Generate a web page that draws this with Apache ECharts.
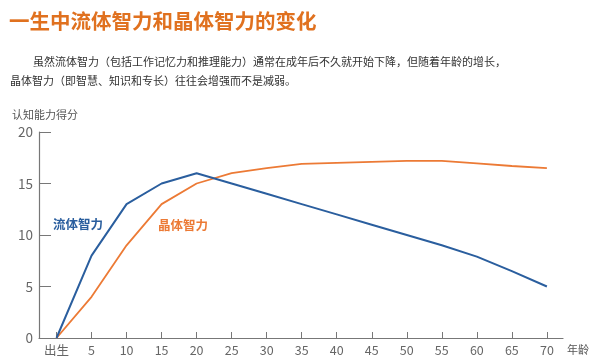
<!DOCTYPE html>
<html><head><meta charset="utf-8">
<script src="https://cdn.jsdelivr.net/npm/echarts@6/dist/echarts.min.js"></script>
<style>html,body{margin:0;padding:0;background:#fff}#c{width:600px;height:364px}</style>
</head><body><div id="c"></div>
<script>
var ages = [0,5,10,15,20,25,30,35,40,45,50,55,60,65,70];
var fluid = [0,8,13,15,16,15,14,13,12,11,10,9,7.9,6.5,5];
var crystal = [0,4,9,13,15,16,16.5,16.9,17,17.1,17.2,17.2,16.95,16.7,16.5];
var xTicks = [0,5,10,15,20,25,30,35,40,45,50,55,60,65,70];
var yTicks = [0,5,10,15,20];
var titleText = '一生中流体智力和晶体智力的变化';
var para1 = '虽然流体智力（包括工作记忆力和推理能力）通常在成年后不久就开始下降，但随着年龄的增长，';
var para2 = '晶体智力（即智慧、知识和专长）往往会增强而不是减弱。';
var fluidName = '流体智力', crystalName = '晶体智力';
var font = '"Noto Sans CJK SC","Noto Sans",sans-serif';
var chart = echarts.init(document.getElementById('c'));
function pairs(v){ return ages.map(function(a,i){return [a,v[i]];}); }
chart.setOption({
  animation:false,
  textStyle:{fontFamily:font},
  graphic:[
    {type:'text',left:9,top:11,style:{text:titleText,font:'bold 20.5px '+font,fill:'#E0711F'}},
    {type:'text',left:33,top:56,style:{text:para1,font:'11px '+font,fill:'#333'}},
    {type:'text',left:10,top:75,style:{text:para2,font:'11px '+font,fill:'#333'}},
    {type:'text',left:53,top:218,style:{text:fluidName,font:'bold 12.5px '+font,fill:'#2A5E9E'}},
    {type:'text',left:158,top:219,style:{text:crystalName,font:'bold 12.5px '+font,fill:'#EC7A35'}}
  ],
  grid:{left:39,right:37,top:132,bottom:26},
  xAxis:{type:'value',min:-2.5,max:72.3,name:'年龄',nameLocation:'end',nameGap:4,
    nameTextStyle:{color:'#555',fontSize:11,verticalAlign:'top',padding:[6,0,0,0]},
    axisLine:{show:true,onZero:false,lineStyle:{color:'#777',width:1.2}},
    axisTick:{show:true,inside:true,length:6,lineStyle:{color:'#777'},customValues:xTicks},
    axisLabel:{color:'#666',fontSize:12.5,margin:6,customValues:xTicks,
      formatter:function(v){return v===0?'出生':String(v);}},
    splitLine:{show:false}},
  yAxis:{type:'value',min:0,max:20,interval:5,name:'认知能力得分',nameLocation:'end',nameGap:12,
    nameTextStyle:{color:'#555',fontSize:11,align:'left',padding:[0,0,0,-27]},
    axisLine:{show:true,onZero:false,lineStyle:{color:'#777',width:1.2}},
    axisTick:{show:true,inside:true,length:12,lineStyle:{color:'#777'}},
    axisLabel:{color:'#666',fontSize:13.5,margin:6},
    splitLine:{show:false}},
  series:[
    {type:'line',name:fluidName,data:pairs(fluid),symbol:'none',lineStyle:{color:'#2A5E9E',width:2},z:3},
    {type:'line',name:crystalName,data:pairs(crystal),symbol:'none',lineStyle:{color:'#EC7A35',width:1.8},z:2}
  ]
});
</script></body></html>
